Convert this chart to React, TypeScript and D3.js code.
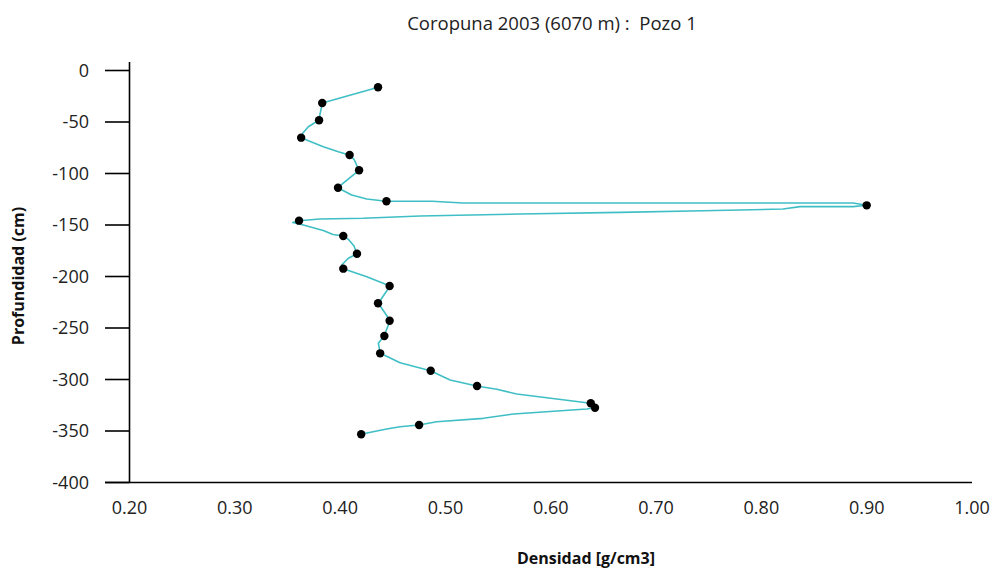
import React from "react";
import * as d3 from "d3";

const title = "Coropuna 2003 (6070 m) :  Pozo 1";
const xLabel = "Densidad [g/cm3]";
const yLabel = "Profundidad (cm)";

const xTicks = [0.2, 0.3, 0.4, 0.5, 0.6, 0.7, 0.8, 0.9, 1.0];
const yTicks = [0, -50, -100, -150, -200, -250, -300, -350, -400];

// measured trace (density, depth)
const traceDensity = [
  0.4363, 0.3831, 0.3797, 0.3698, 0.3645, 0.3629, 0.384, 0.3983, 0.4087, 0.4132,
  0.4179, 0.3977, 0.411, 0.4253, 0.4436, 0.4873, 0.5167, 0.8871, 0.9001, 0.8871,
  0.8367, 0.8206, 0.7446, 0.6658, 0.5708, 0.4759, 0.422, 0.3809, 0.361, 0.355,
  0.365, 0.384, 0.3932, 0.4032, 0.4078, 0.4132, 0.416, 0.4078, 0.4015, 0.403,
  0.4253, 0.4474, 0.4363, 0.4426, 0.4474, 0.4417, 0.4363, 0.4382, 0.4569, 0.4858,
  0.5044, 0.5297, 0.5487, 0.5677, 0.638, 0.6418, 0.6342, 0.5645, 0.536, 0.4917,
  0.4749, 0.4569, 0.4442, 0.4196,
];
const traceDepth = [
  -16.3, -31.6, -48.3, -54.6, -61.0, -65.2, -74.0, -78.8, -82.0, -86.2,
  -96.9, -113.8, -120.9, -124.8, -127.0, -127.0, -128.6, -128.6, -130.9, -132.2,
  -132.2, -134.5, -136.1, -137.7, -139.3, -141.3, -143.5, -144.2, -145.8, -147.6,
  -150.0, -155.3, -159.2, -160.7, -163.9, -170.4, -177.9, -182.3, -188.8, -192.4,
  -200.2, -209.2, -226.0, -235.4, -242.9, -257.8, -264.9, -274.6, -283.7, -291.5,
  -300.5, -306.3, -309.5, -314.1, -323.1, -327.4, -328.6, -333.5, -337.7, -341.0,
  -344.2, -345.8, -348.1, -353.2,
];

// sample points (density, depth)
const sampleDensity = [
  0.436, 0.383, 0.38, 0.363, 0.409, 0.418, 0.398, 0.444, 0.9, 0.361, 0.403, 0.416,
  0.403, 0.447, 0.436, 0.447, 0.442, 0.438, 0.486, 0.53, 0.638, 0.642, 0.475, 0.42,
];
const sampleDepth = [
  -16.3, -31.6, -48.3, -65.2, -82.0, -96.9, -113.8, -127.0, -130.9, -145.8, -160.7, -177.9,
  -192.4, -209.2, -226.0, -242.9, -257.8, -274.6, -291.5, -306.3, -323.1, -327.4, -344.2, -353.2,
];

const W = 994;
const H = 570;
const font = "'Open Sans', 'DejaVu Sans', sans-serif";

export default function App() {
  const x = d3.scaleLinear().domain([0.2, 1.0]).range([129.5, 972]);
  const y = d3.scaleLinear().domain([0, -400]).range([70.5, 482.5]);

  const trace = traceDensity.map((d, i) => [d, traceDepth[i]] as [number, number]);
  const line = d3
    .line<[number, number]>()
    .x((d) => x(d[0]))
    .y((d) => y(d[1]))
    .curve(d3.curveLinear);

  const samples = sampleDensity.map((d, i) => [d, sampleDepth[i]]);

  return (
    <svg
      width={W}
      height={H}
      style={{ position: "absolute", left: 0, top: 0, background: "#fff" }}
      fontFamily={font}
    >
      <text
        x={552}
        y={30}
        textAnchor="middle"
        fontSize={18.5}
        fill="#222"
        style={{ whiteSpace: "pre" }}
      >
        {title}
      </text>

      {/* y axis */}
      <line x1={x(0.2)} x2={x(0.2)} y1={62} y2={y(-400)} stroke="#000" strokeWidth={1.6} />
      {yTicks.map((t) => (
        <g key={t}>
          <line x1={105} x2={x(0.2)} y1={y(t)} y2={y(t)} stroke="#000" strokeWidth={1.6} />
          <text x={89} y={y(t)} dy="0.36em" textAnchor="end" fontSize={18} fill="#222">
            {t === 0 ? "0" : "-" + Math.abs(t)}
          </text>
        </g>
      ))}

      {/* x axis */}
      <line x1={105} x2={x(1.0)} y1={y(-400)} y2={y(-400)} stroke="#000" strokeWidth={1.6} />
      {xTicks.map((t) => (
        <text key={t} x={x(t)} y={514} textAnchor="middle" fontSize={18} fill="#222">
          {t.toFixed(2)}
        </text>
      ))}

      <text x={586} y={564} textAnchor="middle" fontSize={16} fontWeight="bold" fill="#111">
        {xLabel}
      </text>
      <text
        transform={`translate(24,276) rotate(-90)`}
        textAnchor="middle"
        fontSize={16}
        fontWeight="bold"
        fill="#111"
      >
        {yLabel}
      </text>

      <path d={line(trace) || ""} fill="none" stroke="#3fbfc5" strokeWidth={1.6} strokeLinejoin="round" />
      {samples.map((s, i) => (
        <circle key={i} cx={x(s[0])} cy={y(s[1])} r={4.2} fill="#000" />
      ))}
    </svg>
  );
}
